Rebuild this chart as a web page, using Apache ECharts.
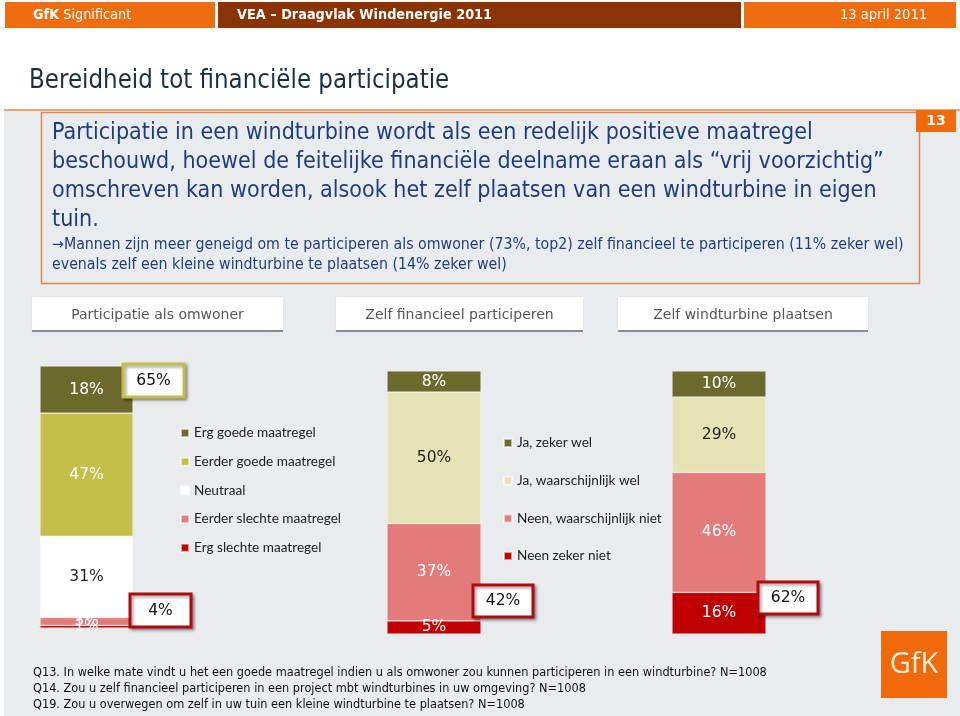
<!DOCTYPE html>
<html><head><meta charset="utf-8">
<script src="https://cdn.jsdelivr.net/npm/echarts@6/dist/echarts.min.js"></script>
<style>html,body{margin:0;padding:0;background:#fff}#c{width:960px;height:716px}</style>
</head><body><div id="c"></div>
<script>
// ---- data ----
const tabLabels = ['Participatie als omwoner', 'Zelf financieel participeren', 'Zelf windturbine plaatsen'];
const q13Names = ['Erg slechte maatregel', 'Eerder slechte maatregel', 'Neutraal', 'Eerder goede maatregel', 'Erg goede maatregel'];
const q13Values = [1, 3, 31, 47, 18];
const q14Names = ['Neen zeker niet', 'Neen, waarschijnlijk niet', 'Ja, waarschijnlijk wel', 'Ja, zeker wel'];
const q14Values = [5, 37, 50, 8];
const q19Values = [16, 46, 29, 10];
const calloutTexts = ['65%', '4%', '42%', '62%'];
const footnotes = [
  'Q13. In welke mate vindt u het een goede maatregel indien u als omwoner zou kunnen participeren in een windturbine? N=1008',
  'Q14. Zou u zelf financieel participeren in een project mbt windturbines in uw omgeving? N=1008',
  'Q19. Zou u overwegen om zelf in uw tuin een kleine windturbine te plaatsen? N=1008'
];

// ---- styles ----
const FONT = '"DejaVu Sans", sans-serif';
const q13Colors = ['#c00000', '#e37b7b', '#ffffff', '#c3bf49', '#6b6a2c'];
const q13LabelColors = ['#ffffff', '#ffffff', '#222222', '#ffffff', '#ffffff'];
const q14Colors = ['#c00000', '#e37b7b', '#e5e3b4', '#6b6a2c'];
const q14LabelColors = ['#ffffff', '#ffffff', '#222222', '#ffffff'];

const grids = [
  {left: 40, top: 366, width: 93, height: 262},
  {left: 387, top: 371, width: 94, height: 263},
  {left: 672, top: 371, width: 94, height: 263}
];
const calloutBoxes = [
  {x: 123, y: 364, w: 61, h: 33, c: '#c3bf49'},
  {x: 130, y: 594, w: 61, h: 33, c: '#b00a10'},
  {x: 473, y: 585, w: 60, h: 32, c: '#b00a10'},
  {x: 758, y: 582, w: 60, h: 32, c: '#b00a10'}
];
const tabBoxes = [
  {x: 32, w: 251}, {x: 336, w: 247}, {x: 618, w: 250}
];

function sum(a) { return a.reduce((s, v) => s + v, 0); }

const series = [];
function addBars(idx, names, values, colors, labelColors) {
  names.forEach((n, i) => {
    series.push({
      name: n, type: 'bar', stack: 's' + idx,
      xAxisIndex: idx, yAxisIndex: idx,
      barWidth: '100%',
      data: [values[i]],
      itemStyle: {color: colors[i], borderColor: 'rgba(255,255,255,0.6)', borderWidth: 0.6},
      label: {show: true, position: 'inside', formatter: '{c}%', color: labelColors[i],
        fontFamily: FONT, fontSize: 15.5},
      emphasis: {disabled: true}, animation: false
    });
  });
}
addBars(0, q13Names, q13Values, q13Colors, q13LabelColors);
addBars(1, q14Names, q14Values, q14Colors, q14LabelColors);
addBars(2, q14Names, q19Values, q14Colors, q14LabelColors);

const totals = [sum(q13Values), sum(q14Values), sum(q19Values)];

const graphic = [];
// header
graphic.push({type: 'rect', shape: {x: 5, y: 2, width: 210, height: 26}, style: {fill: '#f06c10'}});
graphic.push({type: 'rect', shape: {x: 218, y: 2, width: 523, height: 26}, style: {fill: '#8a3304'}});
graphic.push({type: 'rect', shape: {x: 744, y: 2, width: 212, height: 26}, style: {fill: '#f06c10'}});
graphic.push({type: 'text', x: 33, y: 15, scaleX: 0.92, style: {text: '{b|GfK} Significant', fill: '#fff', font: '14px ' + FONT, verticalAlign: 'middle',
  rich: {b: {fontWeight: 'bold', fill: '#fff', fontSize: 14, fontFamily: FONT}}}});
graphic.push({type: 'text', x: 237, y: 15, scaleX: 0.92, style: {text: 'VEA – Draagvlak Windenergie 2011', fill: '#fff', font: 'bold 14px ' + FONT, verticalAlign: 'middle'}});
graphic.push({type: 'text', x: 840, y: 15, scaleX: 0.9, style: {text: '13 april 2011', fill: '#fff', font: '14.5px ' + FONT, verticalAlign: 'middle'}});
// title
graphic.push({type: 'text', x: 29, y: 81, scaleX: 0.885, style: {text: 'Bereidheid tot financiële participatie', fill: '#17304a', font: '26px ' + FONT, verticalAlign: 'middle'}});
// grey background and orange line
graphic.push({type: 'rect', z: -10, shape: {x: 4, y: 110, width: 956, height: 606}, style: {fill: '#e9ecef'}});
graphic.push({type: 'line', shape: {x1: 4, y1: 110, x2: 960, y2: 110}, style: {stroke: '#ee8a4a', lineWidth: 1.5}});
graphic.push({type: 'rect', shape: {x: 41.5, y: 112.5, width: 878, height: 171}, style: {fill: 'none', stroke: '#e8844a', lineWidth: 1.5}});
graphic.push({type: 'rect', shape: {x: 916, y: 110, width: 40, height: 22}, style: {fill: '#f06a0c'}});
graphic.push({type: 'text', x: 936, y: 121, style: {text: '13', fill: '#fff', font: 'bold 14px ' + FONT, align: 'center', verticalAlign: 'middle'}});
graphic.push({type: 'text', x: 52, y: 119, scaleX: 0.935, style: {
  text: 'Participatie in een windturbine wordt als een redelijk positieve maatregel\nbeschouwd, hoewel de feitelijke financiële deelname eraan als “vrij voorzichtig”\nomschreven kan worden, alsook het zelf plaatsen van een windturbine in eigen\ntuin.',
  fill: '#1f3d7e', font: '22.2px ' + FONT, lineHeight: 29}});
graphic.push({type: 'text', x: 52, y: 235, scaleX: 0.94, style: {
  text: '→Mannen zijn meer geneigd om te participeren als omwoner (73%, top2) zelf financieel te participeren (11% zeker wel)\nevenals zelf een kleine windturbine te plaatsen (14% zeker wel)',
  fill: '#1f3d7e', font: '15.1px ' + FONT, lineHeight: 20}});
// tabs
tabBoxes.forEach((t, i) => {
  graphic.push({type: 'rect', shape: {x: t.x, y: 297, width: t.w, height: 34}, style: {fill: '#ffffff', shadowBlur: 2, shadowColor: 'rgba(0,0,0,0.08)'}});
  graphic.push({type: 'line', shape: {x1: t.x, y1: 331, x2: t.x + t.w, y2: 331}, style: {stroke: '#8a8a8a', lineWidth: 2}});
  graphic.push({type: 'text', x: t.x + t.w / 2, y: 315, style: {text: tabLabels[i], fill: '#555', font: '14px ' + FONT, align: 'center', verticalAlign: 'middle'}});
});
// callouts
calloutBoxes.forEach((b, i) => {
  graphic.push({type: 'rect', z: 50, shape: {x: b.x, y: b.y, width: b.w, height: b.h},
    style: {fill: '#fff', stroke: b.c, lineWidth: 3, shadowBlur: 3, shadowOffsetX: 2, shadowOffsetY: 2, shadowColor: 'rgba(0,0,0,0.35)'}});
  graphic.push({type: 'text', z: 51, x: b.x + b.w / 2, y: b.y + b.h / 2, style: {text: calloutTexts[i], fill: '#111', font: '15.5px ' + FONT, align: 'center', verticalAlign: 'middle'}});
});
// footnotes
graphic.push({type: 'text', x: 33, y: 665, scaleX: 0.9, style: {text: footnotes.join('\n'), fill: '#111', font: '12.6px ' + FONT, lineHeight: 16}});
// logo
graphic.push({type: 'rect', shape: {x: 881, y: 631, width: 66, height: 67}, style: {fill: '#f06a0c'}});
graphic.push({type: 'text', x: 914, y: 665, style: {text: 'GfK', fill: '#fdf0d8', font: '29px "Open Sans", sans-serif', align: 'center', verticalAlign: 'middle'}});

const legendText = {fontFamily: 'Lato, sans-serif', fontSize: 13.6, color: '#222', lineHeight: 14};
const option = {
  backgroundColor: '#ffffff',
  animation: false,
  grid: grids.map(g => Object.assign({containLabel: false}, g)),
  xAxis: grids.map((g, i) => ({type: 'category', gridIndex: i, data: [tabLabels[i]], show: false})),
  yAxis: grids.map((g, i) => ({type: 'value', gridIndex: i, min: 0, max: totals[i], show: false})),
  legend: [
    {orient: 'vertical', left: 180, top: 426, padding: 0, itemWidth: 8, itemHeight: 8, itemGap: 14.7, icon: 'rect',
      data: q13Names.slice().reverse(), textStyle: legendText, selectedMode: false},
    {orient: 'vertical', left: 503, top: 436, padding: 0, itemWidth: 8, itemHeight: 8, itemGap: 23.7, icon: 'rect',
      data: q14Names.slice().reverse(), textStyle: legendText, selectedMode: false}
  ],
  series: series,
  graphic: graphic
};
const chart = echarts.init(document.getElementById('c'));
chart.setOption(option);
</script>
</body></html>
